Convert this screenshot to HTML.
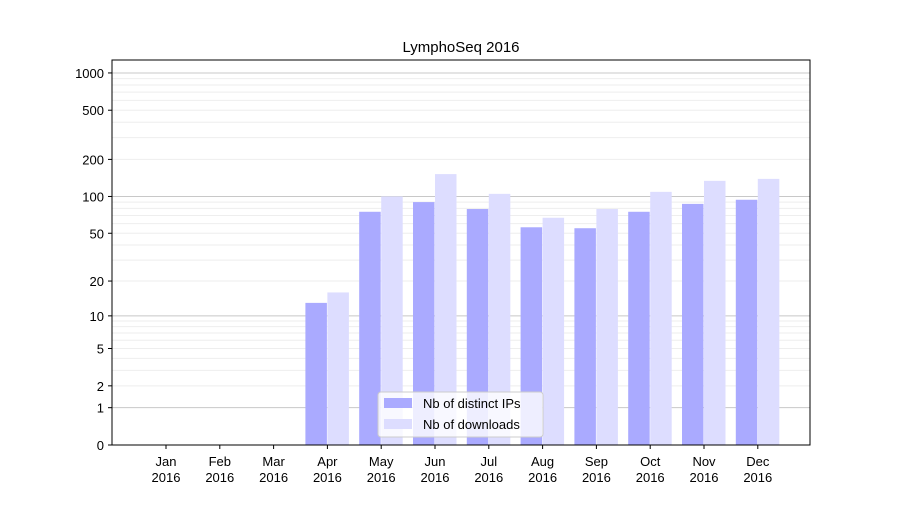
<!DOCTYPE html>
<html><head><meta charset="utf-8"><style>
body{margin:0;background:#fff}
svg{font-family:"Liberation Sans","DejaVu Sans",sans-serif}
</style></head><body>
<svg id="chart" width="900" height="500" viewBox="0 0 900 500">
<rect width="900" height="500" fill="#fff"/>
<text x="461" y="52" text-anchor="middle" font-size="15" fill="#000">LymphoSeq 2016</text>
<g id="grid"></g>
<g id="bars"></g>
<rect x="112" y="60" width="698" height="385" fill="none" stroke="#000" stroke-width="1"/>
<g id="yaxis"></g>
<g id="xaxis"></g>
<g>
<rect x="378" y="392" width="165" height="45" rx="3" fill="#fff" fill-opacity="0.8" stroke="#ccc"/>
<g>
<rect x="384" y="398" width="28" height="10" fill="#aaaaff"/>
<text x="423" y="408" font-size="13">Nb of distinct IPs</text></g>
<g>
<rect x="384" y="419" width="28" height="10" fill="#ddddff"/>
<text x="423" y="429" font-size="13">Nb of downloads</text></g>
</g>
</svg>
<script>
const months=["Jan","Feb","Mar","Apr","May","Jun","Jul","Aug","Sep","Oct","Nov","Dec"];
const distinctIPs=[0,0,0,13,75,90,79,56,55,75,87,94];
const downloads=[0,0,0,16,100,152,105,67,79,109,134,139];
const yTicks=[0,1,2,5,10,20,50,100,200,500,1000];
const NS="http://www.w3.org/2000/svg";
function y(v){return 445-124*Math.log10(v+1);}
function xc(i){return 166+i*53.8;}
function mk(tag,attrs,parent){const e=document.createElementNS(NS,tag);for(const k in attrs)e.setAttribute(k,attrs[k]);parent.appendChild(e);return e;}
const grid=document.getElementById('grid'),bars=document.getElementById('bars'),ya=document.getElementById('yaxis'),xa=document.getElementById('xaxis');
for(const dec of [1,10,100]){for(let m=1;m<10;m++){const v=dec*m;const g=mk('line',{x1:112,x2:810,y1:y(v),y2:y(v),stroke:m===1?'#c8c8c8':'#eeeeee','stroke-width':1},grid);

}}
const g1=mk('line',{x1:112,x2:810,y1:y(1000),y2:y(1000),stroke:'#c8c8c8'},grid);


months.forEach((m,i)=>{
 if(distinctIPs[i]>0){const r=mk('rect',{x:xc(i)-22,y:y(distinctIPs[i]),width:21.5,height:445-y(distinctIPs[i]),fill:'#aaaaff'},bars);
 
 }
 if(downloads[i]>0){const r=mk('rect',{x:xc(i),y:y(downloads[i]),width:21.5,height:445-y(downloads[i]),fill:'#ddddff'},bars);
 
 }
 mk('line',{x1:xc(i),x2:xc(i),y1:445,y2:449,stroke:'#000'},xa);
 const t=mk('text',{x:xc(i),y:466,'text-anchor':'middle','font-size':13},xa);t.textContent=m;
 
 
 const t2=mk('text',{x:xc(i),y:482,'text-anchor':'middle','font-size':13},xa);t2.textContent='2016';
 
 
});
yTicks.forEach(v=>{
 mk('line',{x1:108,x2:112,y1:y(v),y2:y(v),stroke:'#000'},ya);
 const t=mk('text',{x:104,y:y(v)+5,'text-anchor':'end','font-size':13},ya);t.textContent=v;
 
 
});
</script>
</body></html>
